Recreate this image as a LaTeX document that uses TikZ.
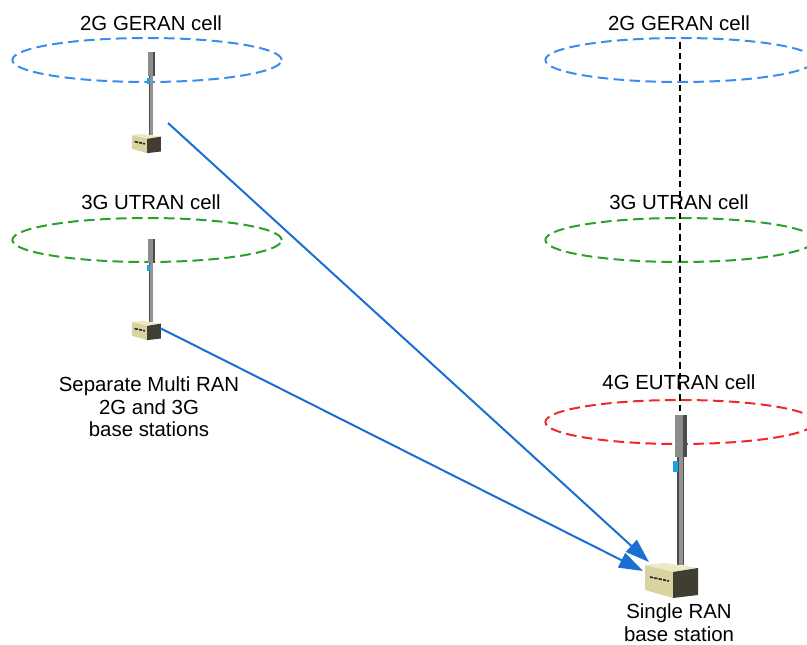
\documentclass[tikz,border=0pt]{standalone}
\usepackage{fontspec}
\setmainfont{Liberation Sans}
\usetikzlibrary{shapes.geometric,arrows.meta}
\definecolor{cellblue}{HTML}{3C8CF0}
\definecolor{cellgreen}{HTML}{2CA02C}
\definecolor{cellred}{HTML}{F02828}
\definecolor{linkblue}{HTML}{1C6FD2}
\definecolor{boxcream}{HTML}{D8D3A0}
\definecolor{boxtop}{HTML}{EDE9C8}
\definecolor{boxdark}{HTML}{3F3E30}
\tikzset{
  cell/.style={draw, ellipse, line width=1.5pt, dash pattern=on 8pt off 4pt, minimum width=202pt, minimum height=33pt, inner sep=0pt},
  label/.style={font=\fontsize{15.3pt}{17pt}\selectfont, align=center},
  link/.style={draw=linkblue, line width=1.5pt, -{Triangle[length=18pt,width=12pt]}},
  pics/station/.style={code={
    \fill[gray!60!black] (-3.5,0) rectangle (3.5,-108);
    \fill[gray!85] (-1.5,0) rectangle (3,-108);
    \fill[cyan!80!teal] (-7,-93) rectangle (-2,-104);
    \fill[gray!90] (-5,-108) rectangle (7,-150);
    \fill[black!70] (3,-108) rectangle (7,-150);
    \fill[boxtop] (-35,0) -- (-15,-2) -- (18,3) -- (-7,7) -- cycle;
    \fill[boxcream] (-35,0) -- (-7,7) -- (-7,33) -- (-35,25) -- cycle;
    \fill[boxdark] (-7,7) -- (18,3) -- (18,30) -- (-7,33) -- cycle;
    \draw[black!85, line width=1.2pt, dash pattern=on 2.5pt off .8pt] (-30,12) -- (-11,16);
  }}
}
\begin{document}
\begin{tikzpicture}[x=.75pt, y=-.75pt]
  \useasboundingbox (0,0) rectangle (807,645);
  % left side
  \node (g1) [cell, draw=cellblue] at (147,60) {};
  \node (u1) [cell, draw=cellgreen] at (147,240) {};
  \node (g1t) [label] at (151,23) {2G GERAN cell};
  \node (u1t) [label] at (151,202) {3G UTRAN cell};
  \pic[scale=.55] at (151,135) {station};
  \pic[scale=.55] at (151,322) {station};
  \node (sep) [label] at (149,407) {Separate Multi RAN\\2G and 3G\\base stations};
  % right side
  \node (g2) [cell, draw=cellblue] at (680,60) {};
  \node (u2) [cell, draw=cellgreen] at (680,240) {};
  \node (e2) [cell, draw=cellred] at (680,422) {};
  \node (g2t) [label] at (679,23) {2G GERAN cell};
  \node (u2t) [label] at (679,202) {3G UTRAN cell};
  \node (e2t) [label] at (679,382) {4G EUTRAN cell};
  \coordinate (top) at (680,42);
  \coordinate (mast) at (680,415);
  \draw[line width=.9pt, dash pattern=on 5pt off 3pt] (top) -- (mast);
  \pic at (680,565) {station};
  \node (single) [label] at (679,623) {Single RAN\\base station};
  % links
  \coordinate (from1) at (168,123);
  \coordinate (from2) at (160,328);
  \coordinate (to1) at (649,562);
  \coordinate (to2) at (643,571);
  \draw[link] (from1) -- (to1);
  \draw[link] (from2) -- (to2);
\end{tikzpicture}
\end{document}
